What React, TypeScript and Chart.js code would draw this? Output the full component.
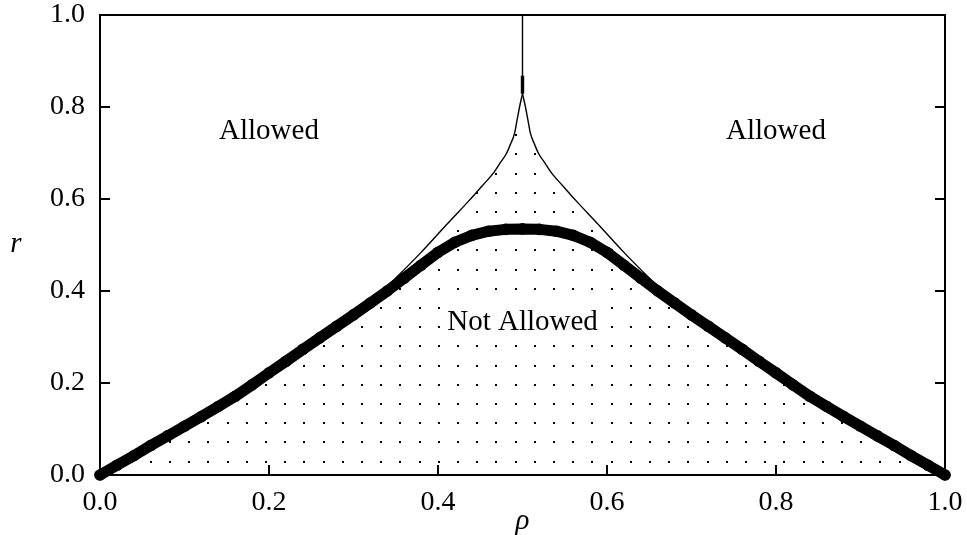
import React, { useEffect, useRef } from "react";
import { Chart, registerables } from "chart.js";

Chart.register(...registerables);

// Thick boundary curve (drawn with heavy markers)
const curveX = [
  0.0, 0.02, 0.04, 0.06, 0.08, 0.1, 0.12, 0.14, 0.16, 0.18, 0.2, 0.22, 0.24, 0.26, 0.28, 0.3,
  0.32, 0.34, 0.36, 0.38, 0.4, 0.42, 0.44, 0.46, 0.48, 0.5, 0.52, 0.54, 0.56, 0.58, 0.6, 0.62,
  0.64, 0.66, 0.68, 0.7, 0.72, 0.74, 0.76, 0.78, 0.8, 0.82, 0.84, 0.86, 0.88, 0.9, 0.92, 0.94,
  0.96, 0.98, 1.0,
];
const curveR = [
  0.0, 0.021, 0.042, 0.064, 0.085, 0.106, 0.127, 0.149, 0.171, 0.196, 0.222, 0.247, 0.273, 0.298,
  0.323, 0.348, 0.374, 0.4, 0.428, 0.456, 0.484, 0.506, 0.521, 0.53, 0.534, 0.535, 0.534, 0.53,
  0.521, 0.506, 0.484, 0.456, 0.428, 0.4, 0.374, 0.348, 0.323, 0.298, 0.273, 0.247, 0.222, 0.196,
  0.171, 0.149, 0.127, 0.106, 0.085, 0.064, 0.042, 0.021, 0.0,
];

// Thin cusp-shaped boundary of the "Not Allowed" (dotted) region: left and right branches
const cuspLeftX = [
  0.0, 0.16, 0.3, 0.33, 0.35, 0.38, 0.41, 0.437, 0.453, 0.465, 0.473, 0.481, 0.486, 0.4905,
  0.4935, 0.4965, 0.5,
];
const cuspLeftR = [
  0.0, 0.171, 0.348, 0.392, 0.428, 0.484, 0.544, 0.597, 0.63, 0.655, 0.677, 0.699, 0.72, 0.742,
  0.771, 0.8, 0.829,
];
const cuspRightX = [
  0.5, 0.5035, 0.5065, 0.5095, 0.514, 0.519, 0.527, 0.535, 0.547, 0.563, 0.59, 0.62, 0.65, 0.67,
  0.7, 0.84, 1.0,
];
const cuspRightR = [
  0.829, 0.8, 0.771, 0.742, 0.72, 0.699, 0.677, 0.655, 0.63, 0.597, 0.544, 0.484, 0.428, 0.392,
  0.348, 0.171, 0.0,
];

// Vertical stem above the cusp
const stemX = [0.5, 0.5];
const stemR = [0.829, 1.0];
const stemHeavyR = [0.829, 0.868];

// Axes
const axisTicks = [0.0, 0.2, 0.4, 0.6, 0.8, 1.0];
const innerTicks = [0.2, 0.4, 0.6, 0.8];
const xTitle = "ρ";
const yTitle = "r";
const regionLabels = ["Allowed", "Allowed", "Not Allowed"];

const FONT = "'Liberation Serif', 'Times New Roman', serif";

function toPts(xs: number[], ys: number[]) {
  return xs.map((x, i) => ({ x, y: ys[i] }));
}

function makeDotPattern(ctx: CanvasRenderingContext2D) {
  const c = document.createElement("canvas");
  c.width = 96;
  c.height = 96;
  const g = c.getContext("2d")!;
  g.fillStyle = "#000";
  for (let i = 0; i < 5; i++) {
    for (let j = 0; j < 5; j++) {
      const x = 16.3 + 19.2 * i;
      const y = 0.9 + 19.2 * j;
      g.fillRect(Math.round(x - 1), Math.round(y - 1), 2, 2);
    }
  }
  return ctx.createPattern(c, "repeat");
}

const decorPlugin = {
  id: "decor",
  afterDatasetsDraw(chart: any) {
    const { ctx } = chart;
    const xs = chart.scales.x;
    const ys = chart.scales.y;
    const anchors = [
      [0.2, 0.73],
      [0.8, 0.73],
      [0.5, 0.315],
    ];
    ctx.save();
    ctx.font = `29px ${FONT}`;
    ctx.textAlign = "center";
    ctx.textBaseline = "alphabetic";
    regionLabels.forEach((t, i) => {
      const px = xs.getPixelForValue(anchors[i][0]);
      const py = ys.getPixelForValue(anchors[i][1]);
      if (i === 2) {
        const w = ctx.measureText(t).width;
        ctx.fillStyle = "#fff";
        ctx.fillRect(px - w / 2 - 4, py - 32, w + 10, 40);
      }
      ctx.fillStyle = "#000";
      ctx.fillText(t, px, py);
    });
    ctx.restore();
  },
  afterDraw(chart: any) {
    const { ctx, chartArea } = chart;
    const xs = chart.scales.x;
    const ys = chart.scales.y;
    const { left, right, top, bottom } = chartArea;
    ctx.save();
    ctx.strokeStyle = "#000";
    ctx.lineWidth = 2;
    ctx.strokeRect(left, top, right - left, bottom - top);
    ctx.beginPath();
    innerTicks.forEach((v) => {
      const py = ys.getPixelForValue(v);
      ctx.moveTo(left, py);
      ctx.lineTo(left + 10, py);
      ctx.moveTo(right - 10, py);
      ctx.lineTo(right, py);
      const px = xs.getPixelForValue(v);
      ctx.moveTo(px, bottom);
      ctx.lineTo(px, bottom - 10);
    });
    ctx.stroke();
    ctx.fillStyle = "#000";
    ctx.font = `italic 29px ${FONT}`;
    ctx.textAlign = "center";
    ctx.textBaseline = "alphabetic";
    ctx.fillText(yTitle, left - 84, ys.getPixelForValue(0.5) + 7);
    ctx.fillText(xTitle, xs.getPixelForValue(0.5), bottom + 54);
    ctx.restore();
  },
};

export default function App() {
  const ref = useRef<HTMLCanvasElement | null>(null);

  useEffect(() => {
    const canvas = ref.current!;
    const ctx = canvas.getContext("2d")!;
    const pattern = makeDotPattern(ctx);
    const tickFont = { family: FONT, size: 28 };
    const branch = (xs: number[], ys: number[]) => ({
      data: toPts(xs, ys),
      borderColor: "#000",
      borderWidth: 1.4,
      pointRadius: 0,
      fill: "origin",
      backgroundColor: pattern as any,
      cubicInterpolationMode: "monotone",
    });
    const chart = new Chart(ctx, {
      type: "line",
      data: {
        datasets: [
          {
            data: toPts(curveX, curveR),
            borderColor: "#000",
            borderWidth: 11,
            borderCapStyle: "round",
            borderJoinStyle: "round",
            pointRadius: 5.8,
            pointBorderWidth: 0,
            pointBackgroundColor: "#000",
            fill: false,
            tension: 0,
            clip: false,
          },
          branch(cuspLeftX, cuspLeftR),
          branch(cuspRightX, cuspRightR),
          {
            data: toPts(stemX, stemR),
            borderColor: "#000",
            borderWidth: 1.4,
            pointRadius: 0,
            fill: false,
          },
          {
            data: toPts(stemX, stemHeavyR),
            borderColor: "#000",
            borderWidth: 3.4,
            pointRadius: 0,
            fill: false,
          },
        ] as any,
      },
      options: {
        animation: false,
        responsive: false,
        events: [],
        layout: { padding: { top: 15, right: 22, left: 0, bottom: 0 } },
        plugins: { legend: { display: false }, tooltip: { enabled: false } },
        scales: {
          x: {
            type: "linear",
            min: 0,
            max: 1,
            grid: { display: false, drawTicks: false },
            border: { display: false },
            afterBuildTicks: (s: any) => {
              s.ticks = axisTicks.map((v) => ({ value: v }));
            },
            afterFit: (s: any) => {
              s.height = 60;
              s.paddingLeft = 0;
              s.paddingRight = 0;
            },
            ticks: {
              autoSkip: false,
              maxRotation: 0,
              padding: 11,
              color: "#000",
              font: tickFont,
              callback: (v: any) => Number(v).toFixed(1),
            },
          },
          y: {
            type: "linear",
            min: 0,
            max: 1,
            grid: { display: false, drawTicks: false },
            border: { display: false },
            afterBuildTicks: (s: any) => {
              s.ticks = axisTicks.map((v) => ({ value: v }));
            },
            afterFit: (s: any) => {
              s.width = 100;
              s.paddingTop = 0;
              s.paddingBottom = 0;
            },
            ticks: {
              autoSkip: false,
              padding: 15,
              color: "#000",
              font: tickFont,
              callback: (v: any) => Number(v).toFixed(1),
            },
          },
        },
      } as any,
      plugins: [decorPlugin],
    });
    return () => chart.destroy();
  }, []);

  return (
    <div style={{ position: "fixed", left: 0, top: 0, width: 967, height: 535, background: "#fff" }}>
      <canvas ref={ref} width={967} height={535} style={{ width: 967, height: 535 }} />
    </div>
  );
}
